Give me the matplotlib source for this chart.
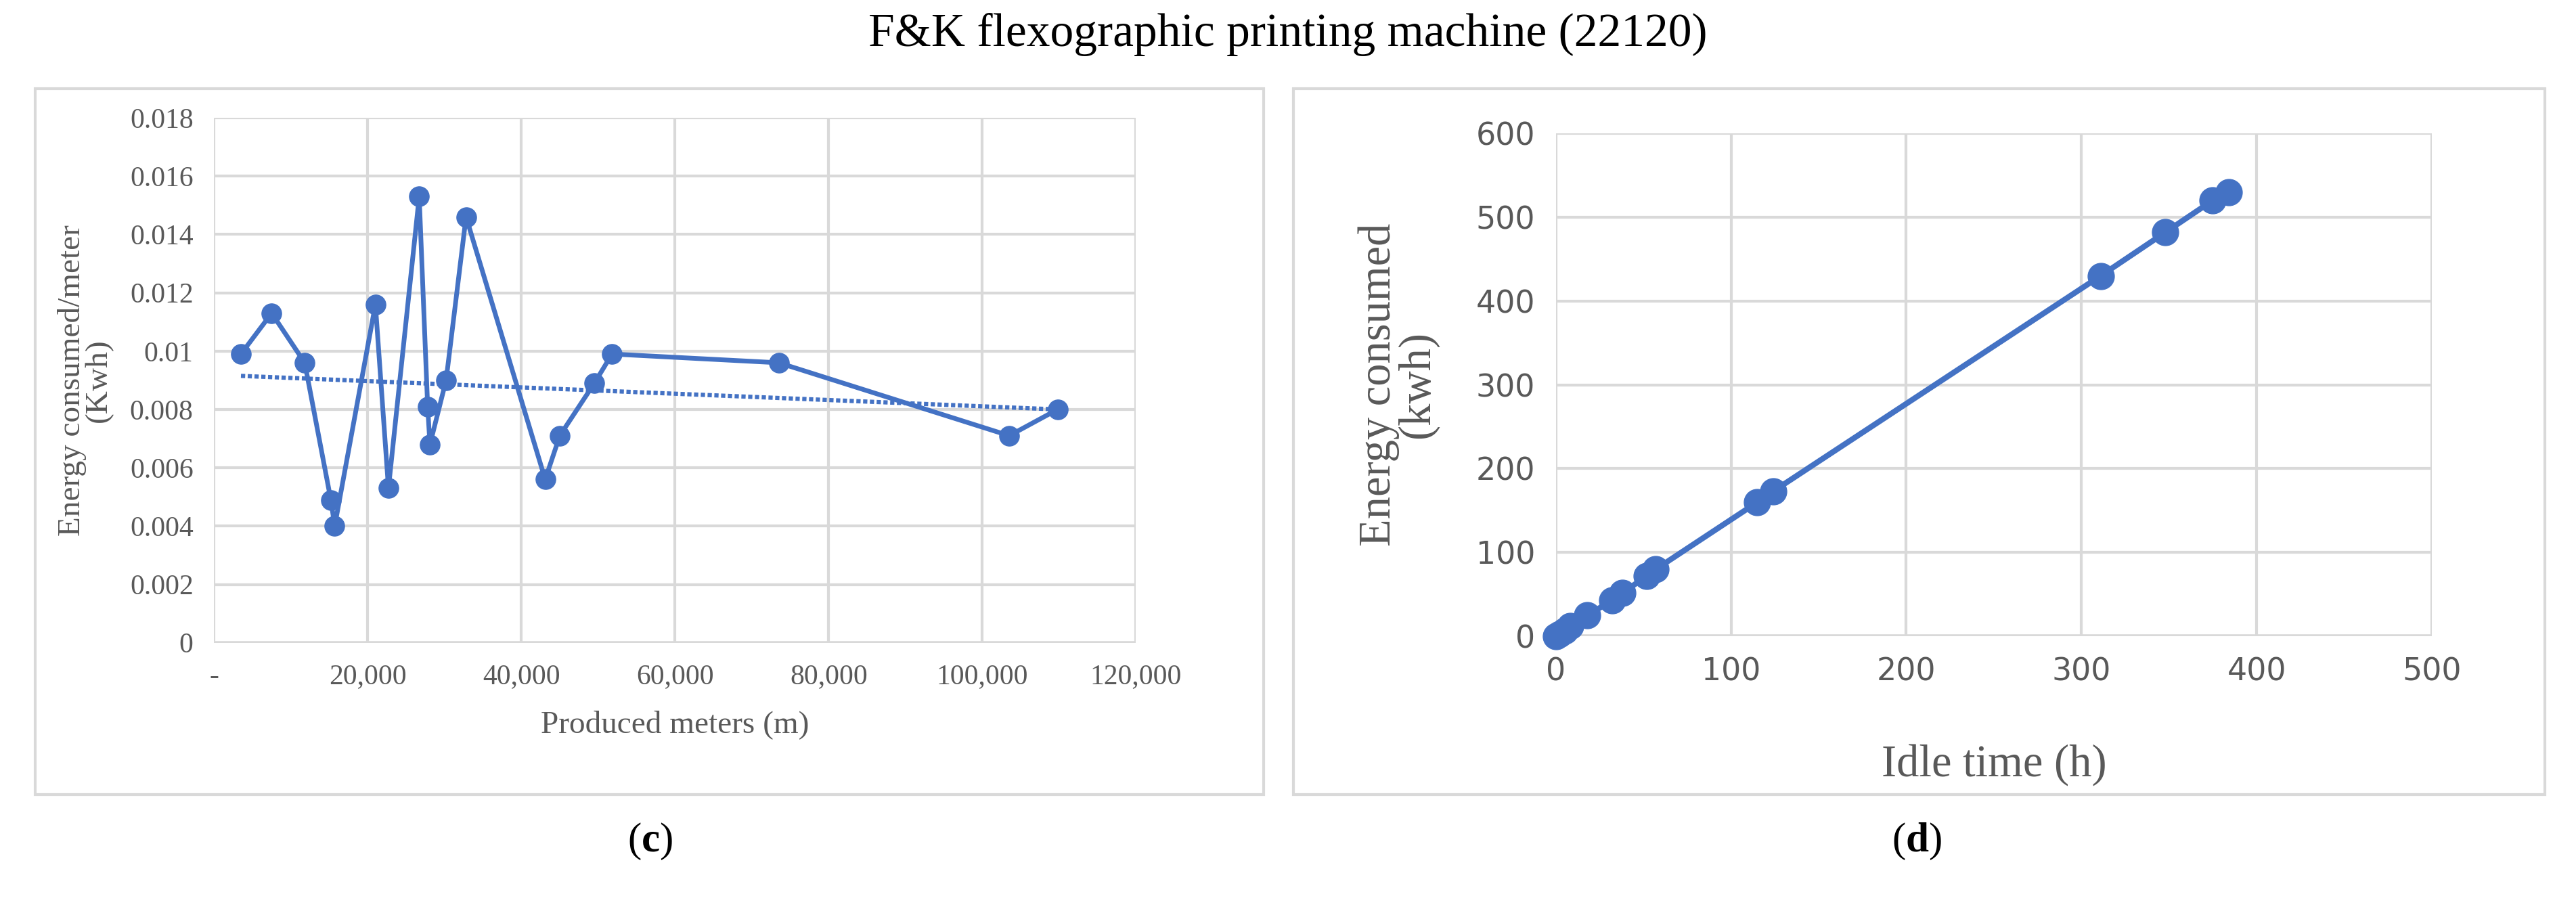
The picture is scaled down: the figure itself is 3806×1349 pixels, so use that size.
import matplotlib
matplotlib.use("Agg")
import matplotlib.pyplot as plt
from matplotlib.patches import Rectangle

meters = [3500, 7500, 11800, 15200, 15700, 21000, 22700, 26700, 27800, 28100, 30200, 32800, 43100, 45000, 49500, 51800, 73500, 103500, 109800]
energy_per_meter = [0.0099, 0.0113, 0.0096, 0.0049, 0.0040, 0.0116, 0.0053, 0.0153, 0.0081, 0.0068, 0.0090, 0.0146, 0.0056, 0.0071, 0.0089, 0.0099, 0.0096, 0.0071, 0.0080]
trend_x = [3500, 109800]
trend_y = [0.00915, 0.0080]
left_yticks = [0, 0.002, 0.004, 0.006, 0.008, 0.01, 0.012, 0.014, 0.016, 0.018]
left_yticklabels = ["0", "0.002", "0.004", "0.006", "0.008", "0.01", "0.012", "0.014", "0.016", "0.018"]
left_xticks = [0, 20000, 40000, 60000, 80000, 100000, 120000]
left_xticklabels = ["-", "20,000", "40,000", "60,000", "80,000", "100,000", "120,000"]

idle = [0, 2, 5, 8, 18, 32, 38, 52, 57, 115, 124, 311, 348, 375, 384]
energy = [0, 3, 7, 12, 25, 43, 52, 72, 80, 160, 173, 430, 482, 520, 530]
right_xticks = [0, 100, 200, 300, 400, 500]
right_yticks = [0, 100, 200, 300, 400, 500, 600]

BLUE = "#4472C4"
GRID = "#D9D9D9"
TXT = "#595959"

plt.rcParams["mathtext.fontset"] = "custom"
plt.rcParams["mathtext.rm"] = "Liberation Serif"
plt.rcParams["mathtext.bf"] = "Liberation Serif:bold"

fig = plt.figure(figsize=(38.06, 13.49), dpi=100)
for x0, x1 in [(0.01375, 0.4906), (0.502, 0.988)]:
    fig.patches.append(Rectangle((x0, 0.130), x1 - x0, 0.773, transform=fig.transFigure,
                                 fill=False, edgecolor="#D9D9D9", linewidth=3))

fig.text(0.5, 0.962, "F&K flexographic printing machine (22120)", ha="center", va="center",
         fontsize=50, family="Liberation Serif")
fig.text(0.2525, 0.078, r"$\mathrm{(}\mathbf{c}\mathrm{)}$", ha="center", va="center", fontsize=44)
fig.text(0.744, 0.078, r"$\mathrm{(}\mathbf{d}\mathrm{)}$", ha="center", va="center", fontsize=44)

# left
ax1 = fig.add_axes([0.0831, 0.296, 0.441 - 0.0831, 0.871 - 0.296])
ax1.plot(meters, energy_per_meter, color=BLUE, lw=5, marker="o", ms=21, zorder=3)
ax1.plot(trend_x, trend_y, color=BLUE, lw=4.5, ls=(0, (1, 0.6)), zorder=2)
ax1.set_xlim(0, 120000); ax1.set_ylim(0, 0.018)
ax1.set_xticks(left_xticks); ax1.set_xticklabels(left_xticklabels)
ax1.set_yticks(left_yticks); ax1.set_yticklabels(left_yticklabels)
ax1.grid(True, color=GRID, lw=3); ax1.set_axisbelow(True)
for s in ax1.spines.values(): s.set_visible(False)
ax1.axhline(0, color=GRID, lw=4, zorder=1)
ax1.tick_params(length=0, labelsize=30, labelcolor=TXT, pad=22)
for lab in ax1.get_xticklabels() + ax1.get_yticklabels(): lab.set_family("Liberation Serif")
ax1.set_xlabel("Produced meters (m)", fontsize=34, family="Liberation Serif", color=TXT, labelpad=22)
ax1.set_ylabel("Energy consumed/meter\n(Kwh)", fontsize=34, family="Liberation Serif", color=TXT,
               labelpad=18, linespacing=0.9)

# right
ax2 = fig.add_axes([0.604, 0.303, 0.944 - 0.604, 0.854 - 0.303])
ax2.plot(idle, energy, color=BLUE, lw=6, marker="o", ms=28, zorder=3, clip_on=False)
ax2.set_xlim(0, 500); ax2.set_ylim(0, 600)
ax2.set_xticks(right_xticks); ax2.set_yticks(right_yticks)
ax2.grid(True, color=GRID, lw=3); ax2.set_axisbelow(True)
for s in ax2.spines.values(): s.set_visible(False)
ax2.axhline(0, color=GRID, lw=4, zorder=1)
ax2.tick_params(length=0, labelsize=33, labelcolor=TXT, pad=22)
ax2.set_xlabel("Idle time (h)", fontsize=48, family="Liberation Serif", color=TXT, labelpad=60)
ax2.set_ylabel("Energy consumed\n(kwh)", fontsize=48, family="Liberation Serif", color=TXT,
               labelpad=40, linespacing=0.9)

fig.savefig("out.png", dpi=100, facecolor="white")
